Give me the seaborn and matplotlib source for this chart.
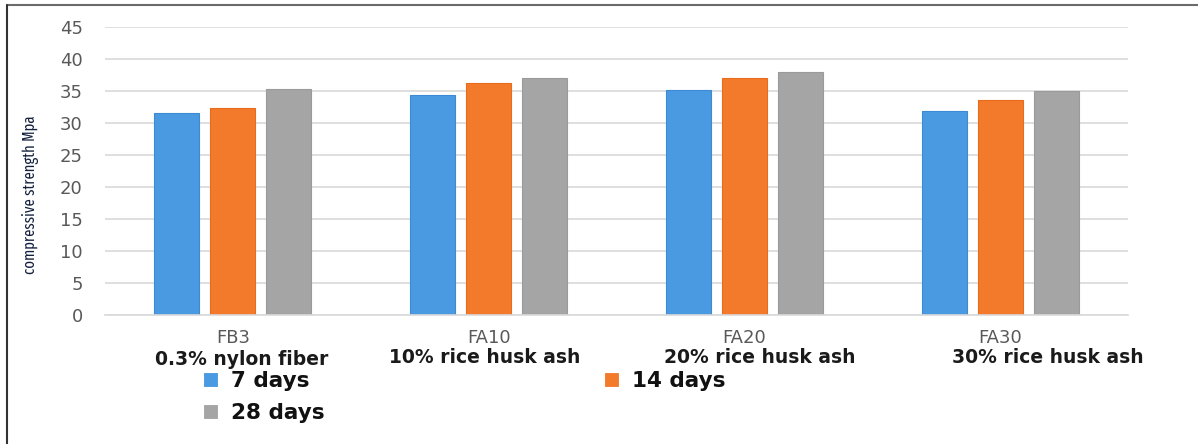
import matplotlib
matplotlib.use("Agg")
import matplotlib.pyplot as plt
import matplotlib.transforms as mtransforms
from matplotlib.lines import Line2D
import pandas as pd
import seaborn as sns

# --- data -------------------------------------------------------------
mixes = ["FB3", "FA10", "FA20", "FA30"]
descriptions = ["0.3% nylon fiber", "10% rice husk ash",
                "20% rice husk ash", "30% rice husk ash"]
ages = ["7 days", "14 days", "28 days"]
strength_7 = [31.5, 34.3, 35.1, 31.9]
strength_14 = [32.4, 36.3, 37.1, 33.6]
strength_28 = [35.3, 37.1, 38.0, 35.0]
y_ticks = [0, 5, 10, 15, 20, 25, 30, 35, 40, 45]

df = pd.DataFrame({
    "mix": mixes * 3,
    "age": [ages[0]] * 4 + [ages[1]] * 4 + [ages[2]] * 4,
    "strength": strength_7 + strength_14 + strength_28,
})

palette = {"7 days": "#4A9AE2", "14 days": "#F37A2A", "28 days": "#A5A5A5"}
edges = {"7 days": "#3D8AD4", "14 days": "#E86C1C", "28 days": "#9A9A9A"}

# --- figure -----------------------------------------------------------
sns.set_theme(style="white")
plt.rcParams["font.family"] = ["DejaVu Sans"]

fig = plt.figure(figsize=(11.98, 4.44), dpi=100)
ax = fig.add_axes([0.0876, 0.2905, 0.854, 0.6487])

sns.barplot(data=df, x="mix", y="strength", hue="age", order=mixes,
            hue_order=ages, palette=palette, width=0.657, gap=0.2,
            errorbar=None, ax=ax, legend=True, linewidth=0.8, saturation=1)

for cont, age in zip(ax.containers, ages):
    for bar in cont:
        bar.set_edgecolor(edges[age])

ax.set_ylim(0, 45)
ax.set_xlim(-0.5, len(mixes) - 0.5)
ax.set_yticks(y_ticks)
ax.yaxis.grid(True, color="#D9D9D9", linewidth=1.2)
ax.set_axisbelow(True)
for side in ["top", "right", "left"]:
    ax.spines[side].set_visible(False)
ax.spines["bottom"].set_color("#D9D9D9")
ax.spines["bottom"].set_linewidth(1.2)

ax.tick_params(axis="y", length=0, pad=16, labelsize=13, labelcolor="#595959")
ax.tick_params(axis="x", length=0, pad=10, labelsize=13, labelcolor="#595959")
ax.set_xlabel("")
ax.set_ylabel("")

# second line under each mix code
desc_dx = [9, -4, 15, 48]
desc_dy = [-44, -42, -42, -42]
for i, (txt, dx, dy) in enumerate(zip(descriptions, desc_dx, desc_dy)):
    base = mtransforms.blended_transform_factory(ax.transData, ax.transAxes)
    tr = mtransforms.offset_copy(base, fig=fig, x=dx, y=dy, units="dots")
    ax.text(i, 0, txt, transform=tr, ha="center", va="center",
            fontsize=13.5, fontweight="bold", color="#1A1A1A")

fig.text(31 / 1198, 1 - 195 / 444, "compressive strength Mpa",
         rotation=90, ha="center", va="center", fontsize=11.5,
         family=["Fira Sans Extra Condensed", "DejaVu Sans"], color="#14213D")

# legend: two columns, 7/28 days on the left, 14 days on the right
handles, labels = ax.get_legend_handles_labels()
lookup = dict(zip(labels, handles))
order = ["7 days", "28 days", "14 days"]
ax.legend([lookup[k] for k in order], order, ncol=2, frameon=False,
          loc="upper left", bbox_to_anchor=(192 / 1198, 1 - 360 / 444),
          bbox_transform=fig.transFigure,
          prop={"weight": "bold", "size": 15.5},
          labelcolor="#111111",
          handlelength=0.7, handleheight=0.7, handletextpad=0.6,
          columnspacing=13.0, labelspacing=0.55, borderpad=0)

# outer frame lines along the top and left edge
fig.add_artist(Line2D([7 / 1198, 1], [1 - 5 / 444, 1 - 5 / 444],
                      transform=fig.transFigure, color="#6B6B6B", linewidth=1.5))
fig.add_artist(Line2D([7 / 1198, 7 / 1198], [0, 1 - 5 / 444],
                      transform=fig.transFigure, color="#333333", linewidth=1.5))

fig.savefig("out.png", dpi=100, facecolor="white")
